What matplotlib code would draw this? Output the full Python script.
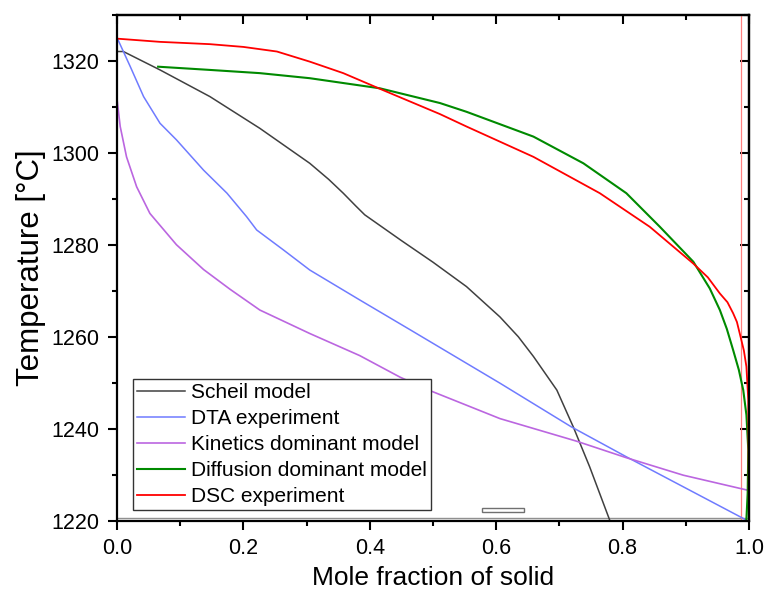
import matplotlib
matplotlib.use("Agg")
import matplotlib.pyplot as plt
from matplotlib.patches import Rectangle

plt.rcParams.update({
    "font.family": "Liberation Sans",
    "font.size": 15,
})

# ---------------- data ----------------
scheil_x = [0.0, 0.01, 0.068, 0.147, 0.226, 0.305, 0.335, 0.358, 0.378, 0.392, 0.45, 0.5,
            0.553, 0.606, 0.635, 0.659, 0.696, 0.722, 0.748, 0.780]
scheil_t = [1322.0, 1322.0, 1318.0, 1312.2, 1305.3, 1297.7, 1294.2, 1291.2, 1288.4, 1286.5, 1280.9, 1276.2,
            1270.9, 1264.3, 1260.0, 1255.7, 1248.4, 1240.4, 1231.7, 1220.0]

dta_x = [0.0, 0.021, 0.042, 0.068, 0.094, 0.137, 0.174, 0.205, 0.221, 0.263,
         0.305, 0.384, 0.464, 0.606, 0.719, 0.806, 0.991, 0.995]
dta_t = [1325.0, 1318.7, 1312.2, 1306.4, 1302.8, 1296.2, 1291.2, 1286.1, 1283.2, 1278.9,
         1274.5, 1268.0, 1261.5, 1249.9, 1240.4, 1233.9, 1220.5, 1220.2]

kin_x = [0.0, 0.005, 0.015, 0.031, 0.052, 0.094, 0.137, 0.179, 0.226, 0.305,
         0.384, 0.448, 0.495, 0.606, 0.727, 0.806, 0.896, 0.996]
kin_t = [1311.6, 1305.7, 1299.1, 1292.6, 1286.8, 1280.0, 1274.6, 1270.3, 1265.8, 1260.7,
         1255.9, 1251.2, 1248.3, 1242.2, 1237.3, 1233.7, 1229.9, 1226.7]

diff_x = [0.065, 0.147, 0.226, 0.305, 0.416, 0.511, 0.553, 0.659, 0.738, 0.806,
          0.859, 0.912, 0.938, 0.954, 0.965, 0.975, 0.984, 0.991, 0.996, 0.999, 0.998, 0.996]
diff_t = [1318.7, 1318.0, 1317.3, 1316.2, 1314.0, 1310.8, 1308.9, 1303.5, 1297.7, 1291.2,
          1283.9, 1276.3, 1270.5, 1265.8, 1261.7, 1257.1, 1252.8, 1248.4, 1243.0, 1235.4, 1226.0, 1220.3]

dsc_x = [0.0, 0.068, 0.147, 0.2, 0.253, 0.305, 0.358, 0.421, 0.511, 0.553,
         0.659, 0.764, 0.843, 0.912, 0.935, 0.954, 0.966, 0.975, 0.981, 0.986, 0.992, 0.996, 0.999, 1.0]
dsc_t = [1324.8, 1324.1, 1323.6, 1323.0, 1322.0, 1319.8, 1317.3, 1313.6, 1308.4, 1305.7,
         1299.1, 1291.2, 1283.9, 1275.9, 1272.9, 1269.4, 1267.5, 1265.1, 1263.2, 1260.4, 1257.0, 1253.5, 1246.2, 1220.0]

dsc_vline_x = 0.987
baseline_t = 1220.6
box_x = [0.577, 0.644]
box_t = [1221.8, 1222.8]

labels = ["Scheil model", "DTA experiment", "Kinetics dominant model",
          "Diffusion dominant model", "DSC experiment"]

# ---------------- figure ----------------
fig = plt.figure(figsize=(7.65, 5.96), dpi=100)
ax = fig.add_axes([0.153, 0.1263, 0.826, 0.849])

ax.axhline(baseline_t, color="#909090", lw=1.0, zorder=1)
ax.axvline(dsc_vline_x, color="#ff8080", lw=0.9, zorder=1)

ax.plot(scheil_x, scheil_t, color="#404040", lw=1.1, label=labels[0])
ax.plot(dta_x, dta_t, color="#6f7bff", lw=1.1, label=labels[1])
ax.plot(kin_x, kin_t, color="#bb66e0", lw=1.2, label=labels[2])
ax.plot(diff_x, diff_t, color="#008a00", lw=1.5, label=labels[3])
ax.plot(dsc_x, dsc_t, color="#ff0000", lw=1.3, label=labels[4])

ax.add_patch(Rectangle((box_x[0], box_t[0]), box_x[1] - box_x[0], box_t[1] - box_t[0],
                       facecolor="white", edgecolor="#707070", lw=1.0, zorder=3))

ax.set_xlim(0, 1)
ax.set_ylim(1220, 1330)
ax.set_xticks([0.0, 0.2, 0.4, 0.6, 0.8, 1.0])
ax.set_xticks([0.1, 0.3, 0.5, 0.7, 0.9], minor=True)
ax.set_yticks([1220, 1240, 1260, 1280, 1300, 1320])
ax.set_yticks([1230, 1250, 1270, 1290, 1310, 1330], minor=True)
ax.set_xticklabels(["0.0", "0.2", "0.4", "0.6", "0.8", "1.0"])

ax.tick_params(which="both", direction="out", top=False, right=False, width=1.5)
ax.tick_params(which="major", length=6.5, pad=6, labelsize=15.5)
ax.tick_params(which="minor", length=3.5)

for s in ax.spines.values():
    s.set_linewidth(1.6)

# inward ticks on top and right
axt = ax.secondary_xaxis("top")
axt.set_xticks([0.0, 0.2, 0.4, 0.6, 0.8, 1.0])
axt.set_xticks([0.1, 0.3, 0.5, 0.7, 0.9], minor=True)
axt.tick_params(which="both", direction="in", labeltop=False, width=1.5)
axt.tick_params(which="major", length=6.5)
axt.tick_params(which="minor", length=3.5)
axt.spines["top"].set_linewidth(1.6)
axr = ax.secondary_yaxis("right")
axr.set_yticks([1220, 1240, 1260, 1280, 1300, 1320])
axr.set_yticks([1230, 1250, 1270, 1290, 1310, 1330], minor=True)
axr.tick_params(which="both", direction="in", labelright=False, width=1.5)
axr.tick_params(which="major", length=6.5)
axr.tick_params(which="minor", length=3.5)
axr.spines["right"].set_linewidth(1.6)

ax.set_xlabel("Mole fraction of solid", fontsize=19, labelpad=5)
ax.set_ylabel("Temperature [°C]", fontsize=22.5, labelpad=4)

leg = ax.legend(loc="lower left", bbox_to_anchor=(0.0253, 0.021), borderaxespad=0,
                fontsize=15, handlelength=2.3, handletextpad=0.3, labelspacing=0.33,
                borderpad=0.2, fancybox=False, framealpha=1)
leg.get_frame().set_edgecolor("#333333")
leg.get_frame().set_linewidth(1.0)

fig.savefig("out.png", dpi=100)
